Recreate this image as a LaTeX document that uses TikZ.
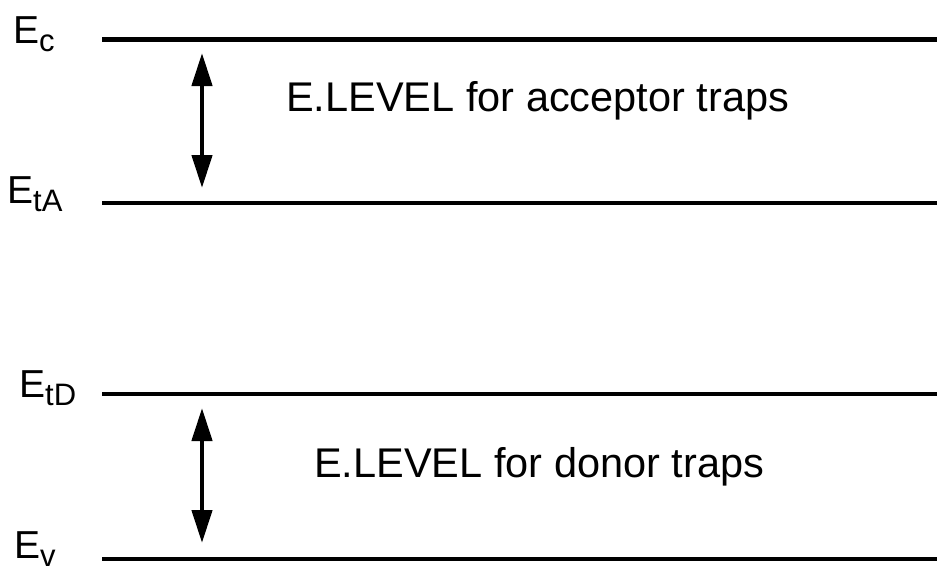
\documentclass[tikz,border=0pt]{standalone}
\usepackage{fontspec}
\setmainfont{Liberation Sans}
\usetikzlibrary{arrows.meta}
\tikzset{
  level/.style={line width=4.6pt},
  gap/.style={line width=4.4pt, {Triangle[length=33pt,width=20pt]}-{Triangle[length=33pt,width=20pt]}},
  lbl/.style={inner sep=0pt, anchor=base west},
  txt/.style={inner sep=0pt, anchor=base west, font=\fontsize{41.5}{48}\selectfont}
}
\newcommand{\levlabel}[2]{{\fontsize{39}{44}\selectfont E}\raisebox{-8pt}{\fontsize{31}{36}\selectfont #2}}
\begin{document}
\begin{tikzpicture}[x=1pt,y=-1pt]
  \useasboundingbox (0,0) rectangle (938,570);
  % energy levels
  \coordinate (c1) at (102,39.5);  \coordinate (c2) at (937,39.5);
  \coordinate (a1) at (102,203);   \coordinate (a2) at (937,203);
  \coordinate (d1) at (102,394);   \coordinate (d2) at (937,394);
  \coordinate (v1) at (102,559);   \coordinate (v2) at (937,559);
  \draw[level] (c1) -- (c2);
  \draw[level] (a1) -- (a2);
  \draw[level] (d1) -- (d2);
  \draw[level] (v1) -- (v2);
  % level labels
  \node[lbl] (lc) at (13,43) {\levlabel{E}{c}};
  \node[lbl] (la) at (7,203) {\levlabel{E}{tA}};
  \node[lbl] (ld) at (19,397) {\levlabel{E}{tD}};
  \node[lbl] (lv) at (14,558) {\levlabel{E}{v}};
  % trap ranges
  \coordinate (ut) at (202,53);  \coordinate (ub) at (202,188);
  \coordinate (lt) at (202,408); \coordinate (lb) at (202,543);
  \draw[gap] (ut) -- (ub);
  \draw[gap] (lt) -- (lb);
  \node[txt] (acc) at (286,111) {E.LEVEL for acceptor traps};
  \node[txt] (don) at (314,477) {E.LEVEL for donor traps};
\end{tikzpicture}
\end{document}
